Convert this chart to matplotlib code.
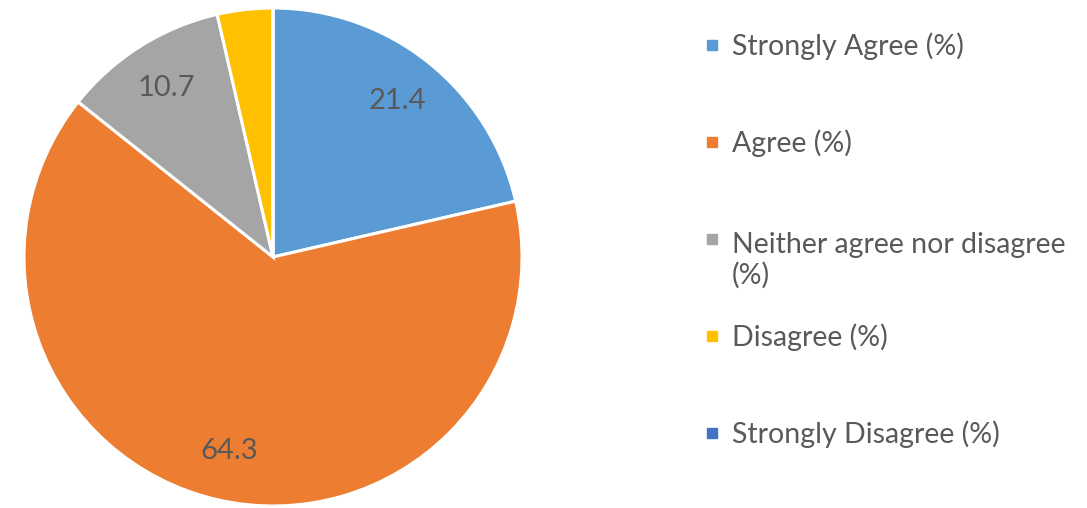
import numpy as np
import matplotlib
matplotlib.use("Agg")
import matplotlib.pyplot as plt

# chart data
categories = ["Strongly Agree (%)", "Agree (%)", "Neither agree nor disagree\n(%)",
              "Disagree (%)", "Strongly Disagree (%)"]
values = [21.4, 64.3, 10.7, 3.6, 0.0]
shown_labels = ["21.4", "64.3", "10.7", "", ""]
colors = ["#5B9BD5", "#ED7D31", "#A5A5A5", "#FFC000", "#4472C4"]

text_color = "#595959"
plt.rcParams['font.family'] = ['Lato', 'DejaVu Sans']

fig = plt.figure(figsize=(10.87, 5.08), dpi=100)
ax = fig.add_axes([24 / 1087, 2 / 508, 498 / 1087, 498 / 508])

wedges, _ = ax.pie(values, colors=colors, startangle=90, counterclock=False,
                   radius=1.0, wedgeprops=dict(edgecolor="white", linewidth=2.2))

# data labels at 80% of radius along each wedge's mid angle
for w, lab in zip(wedges, shown_labels):
    if not lab:
        continue
    mid = np.deg2rad((w.theta1 + w.theta2) / 2)
    ax.text(0.8 * np.cos(mid), 0.8 * np.sin(mid), lab, ha="center", va="center",
            fontsize=21, color=text_color)

ax.set_xlim(-1, 1)
ax.set_ylim(-1, 1)
ax.set_aspect("equal")
ax.axis("off")

# legend drawn by hand, one row every ~97 px
for i, (name, c) in enumerate(zip(categories, colors)):
    yc = 45 + i * 97
    fig.patches.append(plt.Rectangle((707 / 1087, 1 - (yc + 5) / 508), 10 / 1087, 10 / 508,
                                     transform=fig.transFigure, color=c))
    # baseline sits on the last line, so push wrapped labels down
    extra = name.count("\n") * 35
    fig.text(732 / 1087, 1 - (yc + 10 + extra) / 508, name, ha="left", va="baseline",
             fontsize=20.5, color=text_color, linespacing=1.2)

fig.savefig("out.png", dpi=100)
